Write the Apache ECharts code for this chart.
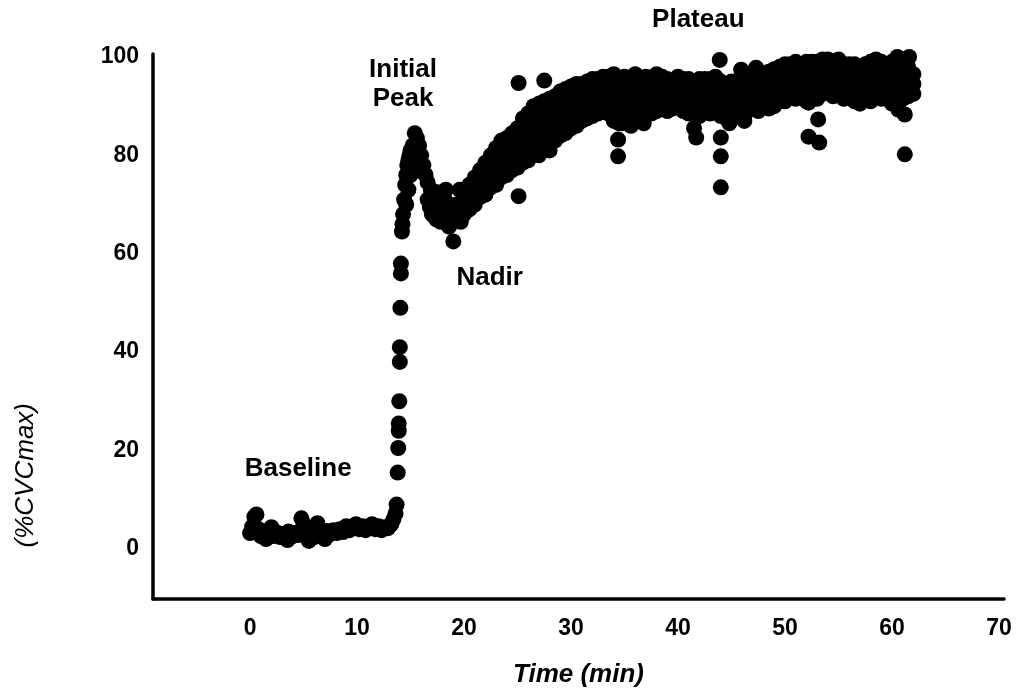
<!DOCTYPE html>
<html>
<head>
<meta charset="utf-8">
<script src="https://cdn.jsdelivr.net/npm/echarts@6/dist/echarts.min.js"></script>
<style>
html,body{margin:0;padding:0;background:#fff;}
#chart{width:1020px;height:693px;}
</style>
</head>
<body>
<div id="chart"></div>
<script>
// ---- Data (time in min, %CVCmax) ----
const xTicks = [0, 10, 20, 30, 40, 50, 60, 70];
const yTicks = [0, 20, 40, 60, 80, 100];

const baseline = [
  [0.0,3.2],[0.2,4.5],[0.4,6.5],[0.6,7.0],[0.8,4.0],[1.0,2.6],[1.2,3.0],[1.4,2.8],[1.5,2.0],[1.6,3.5],
  [1.8,2.5],[2.0,3.0],[2.0,4.4],[2.2,2.6],[2.5,3.3],[2.8,2.4],[3.0,3.0],[3.3,2.7],[3.5,1.8],[3.6,3.5],
  [3.9,2.5],[4.2,3.2],[4.5,2.8],[4.8,6.2],[5.0,5.0],[5.2,3.0],[5.4,2.2],[5.5,1.6],[5.7,3.6],[6.0,2.4],
  [6.3,5.2],[6.6,3.0],[6.9,2.6],[7.0,2.0],[7.2,3.6],[7.5,3.0],[7.8,3.8],[8.1,3.2],[8.4,4.0],[8.7,3.4],
  [9.0,4.6],[9.3,3.8],[9.6,4.2],[9.9,5.0],[10.2,4.0],[10.5,4.6],[10.8,3.8],[11.1,4.4],[11.4,5.0],[11.7,4.0],
  [12.0,4.6],[12.3,3.8],[12.6,4.4],[12.9,4.2],[13.2,5.0],[13.4,6.0],[13.6,7.2],[13.7,9.0]
];
const rise = [
  [13.8,15.5],[13.85,20.5],[13.9,24],[13.9,25.5],[13.95,30],[14.0,38],[14.0,41],[14.05,49],
  [14.1,56],[14.1,58],[14.2,64.5],[14.25,66]
];
const initialPeak = [
  [14.3,68],[14.4,71],[14.5,74],[14.6,76],[14.7,78],[14.8,79],[14.9,80],[15.0,81],[15.2,82],[15.4,84.5],
  [15.6,83.5],[15.8,82],[16.0,80],[16.2,78],[16.4,76],[16.6,74.5],[14.6,70],[14.8,73],[15.0,76],[15.3,78],
  [15.5,80],[15.7,78]
];
const nadir = [
  [16.6,71],[16.8,69.5],[17.0,68],[17.2,70],[17.4,67],[17.6,69],[17.8,66.5],[18.0,68.5],[18.2,71],[18.4,67],
  [18.6,65.5],[18.8,69],[19.0,62.5],[19.1,67],[19.3,70],[19.5,68],[19.7,66.5],[19.9,71],[20.1,69],[20.3,72],
  [16.9,73],[17.5,72.5],[18.3,73],[19.6,73]
];
const climb = [
  [20.0,68],[20.0,70.5],[20.0,72.5],
  [20.5,69],[20.5,71.5],[20.5,74],
  [21.0,70],[21.0,72.5],[21.0,75.5],
  [21.5,71.5],[21.5,74],[21.5,77],
  [22.0,72],[22.0,74.5],[22.0,77],[22.0,78.5],
  [22.5,73.5],[22.5,76],[22.5,78.5],[22.5,80],
  [23.0,74],[23.0,76.5],[23.0,79],[23.0,81.5],
  [23.5,75.5],[23.5,78],[23.5,80.5],[23.5,83],
  [24.0,76],[24.0,78.5],[24.0,81],[24.0,83.5],
  [24.5,77],[24.5,79.5],[24.5,82],[24.5,84.5],
  [25.0,77.5],[25.0,80],[25.0,82.5],[25.0,85.5],
  [25.5,78.5],[25.5,81],[25.5,83.5],[25.5,86],[25.5,87.5],
  [26.0,79],[26.0,81.5],[26.0,84],[26.0,86.5],[26.0,88.5],
  [26.5,80.5],[26.5,83],[26.5,85.5],[26.5,88],[26.5,90],
  [27.0,80],[27.0,82.5],[27.0,85],[27.0,87.5],[27.0,90.5],
  [27.5,81.5],[27.5,84],[27.5,86.5],[27.5,89],[27.5,91],
  [28.0,81],[28.0,83.5],[28.0,86],[28.0,88.5],[28.0,91.5],
  [28.5,83],[28.5,85.5],[28.5,88],[28.5,90.5],[28.5,92],
  [29.0,84],[29.0,86.5],[29.0,89],[29.0,91.5],[29.0,93],
  [29.5,84.5],[29.5,87],[29.5,89.5],[29.5,92],[29.5,93.5],
  [30.0,85.5],[30.0,88],[30.0,90.5],[30.0,93],[30.0,94],
  [30.5,86],[30.5,88.5],[30.5,91],[30.5,93.5],[30.5,94.5],
  [31.0,87],[31.0,89.5],[31.0,92],[31.0,94.5],
  [31.5,87.5],[31.5,90],[31.5,92.5],[31.5,95],
  [32.0,88],[32.0,90.5],[32.0,93],[32.0,95.5],
  [32.5,88.5],[32.5,91],[32.5,93.5],[32.5,95.5],
  [33.0,89],[33.0,91.5],[33.0,94],[33.0,96],
  [33.5,88.5],[33.5,91],[33.5,93.5],[33.5,96],
  [34.0,87],[34.0,89.5],[34.0,92],[34.0,94.5],[34.0,96.5],
  [34.5,86.5],[34.5,89],[34.5,91.5],[34.5,94],[34.5,95.5],
  [35.0,87.5],[35.0,90],[35.0,92.5],[35.0,95],[35.0,96]
];
const plateau = [
  [35.5,88],[35.5,90.5],[35.5,93],[35.5,95],
  [36.0,89],[36.0,91.5],[36.0,94],[36.0,96.5],
  [36.5,87.5],[36.5,90],[36.5,92.5],[36.5,95],
  [37.0,89.5],[37.0,92],[37.0,94.5],[37.0,96],
  [37.5,88.5],[37.5,91],[37.5,93.5],[37.5,95.5],
  [38.0,89],[38.0,91.5],[38.0,94],[38.0,96.5],
  [38.5,90],[38.5,92.5],[38.5,95],[38.5,96],
  [39.0,89],[39.0,91.5],[39.0,94],[39.0,95.5],
  [39.5,89.5],[39.5,92],[39.5,94.5],[39.5,95],
  [40.0,90],[40.0,92.5],[40.0,95],[40.0,96],
  [40.5,89],[40.5,91.5],[40.5,94],[40.5,95.5],
  [41.0,88.5],[41.0,91],[41.0,93.5],[41.0,95.5],
  [41.5,89],[41.5,91.5],[41.5,94],[41.5,95],
  [42.0,88],[42.0,90.5],[42.0,93],[42.0,95.5],
  [42.5,89],[42.5,91.5],[42.5,94],[42.5,95.5],
  [43.0,88.5],[43.0,91],[43.0,93.5],[43.0,95.5],
  [43.5,89],[43.5,91.5],[43.5,94],[43.5,96],
  [44.0,88],[44.0,90.5],[44.0,93],[44.0,95],
  [44.5,87.5],[44.5,90],[44.5,92.5],[44.5,94.5],
  [45.0,88],[45.0,90.5],[45.0,93],[45.0,95],
  [45.5,89],[45.5,91],[45.5,93.5],[45.5,94.5],
  [46.0,88.5],[46.0,91],[46.0,93.5],[46.0,95],
  [46.5,89],[46.5,91.5],[46.5,94],[46.5,95.5],
  [47.0,89.5],[47.0,92],[47.0,94.5],[47.0,96],
  [47.5,89],[47.5,91.5],[47.5,94],[47.5,95.5],
  [48.0,90],[48.0,92.5],[48.0,95],[48.0,96.5],
  [48.5,89.5],[48.5,92],[48.5,94.5],[48.5,97],
  [49.0,90],[49.0,92.5],[49.0,95],[49.0,97.5],
  [49.5,91],[49.5,93.5],[49.5,96],[49.5,98],
  [50.0,91],[50.0,93.5],[50.0,96],[50.0,98.5],
  [50.5,92],[50.5,94.5],[50.5,97],[50.5,98.5],
  [51.0,91.5],[51.0,94],[51.0,96.5],[51.0,99],
  [51.5,92],[51.5,94.5],[51.5,97],[51.5,98.5],
  [52.0,91],[52.0,93.5],[52.0,96],[52.0,99],
  [52.5,92],[52.5,94.5],[52.5,97],[52.5,99],
  [53.0,91.5],[53.0,94],[53.0,96.5],[53.0,99],
  [53.5,92.5],[53.5,95],[53.5,97.5],[53.5,99.5],
  [54.0,93],[54.0,95.5],[54.0,98],[54.0,99.5],
  [54.5,92],[54.5,94.5],[54.5,97],[54.5,99],
  [55.0,93],[55.0,95.5],[55.0,98],[55.0,99.5],
  [55.5,91.5],[55.5,94],[55.5,96.5],[55.5,98.5],
  [56.0,92],[56.0,94.5],[56.0,97],[56.0,98.5],
  [56.5,91],[56.5,93.5],[56.5,96],[56.5,98.5],
  [57.0,90.5],[57.0,93],[57.0,95.5],[57.0,98],
  [57.5,92],[57.5,94.5],[57.5,97],[57.5,98.5],
  [58.0,91],[58.0,93.5],[58.0,96],[58.0,99],
  [58.5,92.5],[58.5,95],[58.5,97.5],[58.5,99.5],
  [59.0,91.5],[59.0,94],[59.0,96.5],[59.0,99],
  [59.5,92],[59.5,94.5],[59.5,97],[59.5,98.5],
  [60.0,90.5],[60.0,93],[60.0,95.5],[60.0,99],
  [60.5,91],[60.5,93.5],[60.5,96],[60.5,99],
  [61.0,91.5],[61.0,94],[61.0,96.5],[61.0,98.5],
  [61.5,92],[61.5,94.5],[61.5,97],[61.5,98],
  [62.0,92.5],[62.0,94.5],[62.0,96.5]
];
const outliers = [
  [25.1,94.7],[27.5,95.2],[25.1,71.7],[34.4,83.2],[34.4,79.8],[41.7,83.6],[43.9,99.4],[44.0,83.6],
  [44.0,79.8],[44.0,73.5],[45.9,97.4],[47.3,97.8],[52.2,83.8],[53.2,82.6],[53.1,87.3],[52.2,90.7],
  [61.2,80.2],[61.2,88.3],[60.6,89.3],[60.5,100],[61.6,100],
  [34.8,86.5],[35.6,86],[36.8,86.5],[41.5,85.5],[44.8,86.5],[46.2,87]
];

// Text annotations placed in data coordinates
const annotationNames = ['Baseline', 'Initial\nPeak', 'Nadir', 'Plateau'];
const annotationPos = [[4.5, 16.2], [14.3, 94.4], [22.4, 55], [41.9, 107.5]];

const allPoints = [].concat(baseline, rise, initialPeak, nadir, climb, plateau, outliers);

const chart = echarts.init(document.getElementById('chart'), null, { renderer: 'canvas' });
const FONT = '"Liberation Sans", Arial, sans-serif';
chart.setOption({
  animation: false,
  backgroundColor: '#ffffff',
  grid: { left: 153, right: 16, top: 54, bottom: 90.5, containLabel: false },
  xAxis: {
    type: 'value',
    min: -9.07, max: 70.47,
    name: 'Time (min)',
    nameLocation: 'middle',
    nameGap: 63,
    nameTextStyle: { fontFamily: FONT, fontSize: 26, fontWeight: 'bold', fontStyle: 'italic', color: '#000' },
    axisLine: { show: true, onZero: false, lineStyle: { color: '#000', width: 3.5 } },
    axisTick: { show: false },
    splitLine: { show: false },
    axisLabel: {
      customValues: xTicks,
      margin: 18,
      fontFamily: FONT, fontSize: 23, fontWeight: 'bold', color: '#000'
    }
  },
  yAxis: {
    type: 'value',
    min: -10.2, max: 100.6,
    axisLine: { show: true, onZero: false, lineStyle: { color: '#000', width: 3.5 } },
    axisTick: { show: false },
    splitLine: { show: false },
    axisLabel: {
      customValues: yTicks,
      margin: 14,
      fontFamily: FONT, fontSize: 23, fontWeight: 'bold', color: '#000'
    }
  },
  graphic: [{
    type: 'text',
    left: 13, top: 403,
    rotation: Math.PI / 2,
    style: {
      text: '(%CVCmax)',
      font: 'italic 26px "Liberation Sans", Arial, sans-serif',
      fill: '#000'
    }
  }],
  series: [
    {
      type: 'scatter',
      name: '%CVCmax',
      data: allPoints,
      symbol: 'circle',
      symbolSize: 16,
      itemStyle: { color: '#000', opacity: 1 },
      emphasis: { disabled: true }
    },
    {
      type: 'custom',
      name: 'annotations',
      data: annotationPos,
      clip: false,
      silent: true,
      renderItem: function (params, api) {
        const p = api.coord([api.value(0), api.value(1)]);
        return {
          type: 'text',
          x: p[0], y: p[1],
          style: {
            text: annotationNames[params.dataIndex],
            font: 'bold 26px "Liberation Sans", Arial, sans-serif',
            fill: '#000000',
            align: 'center',
            verticalAlign: 'middle',
            lineHeight: 29
          }
        };
      }
    }
  ]
});
</script>
</body>
</html>
